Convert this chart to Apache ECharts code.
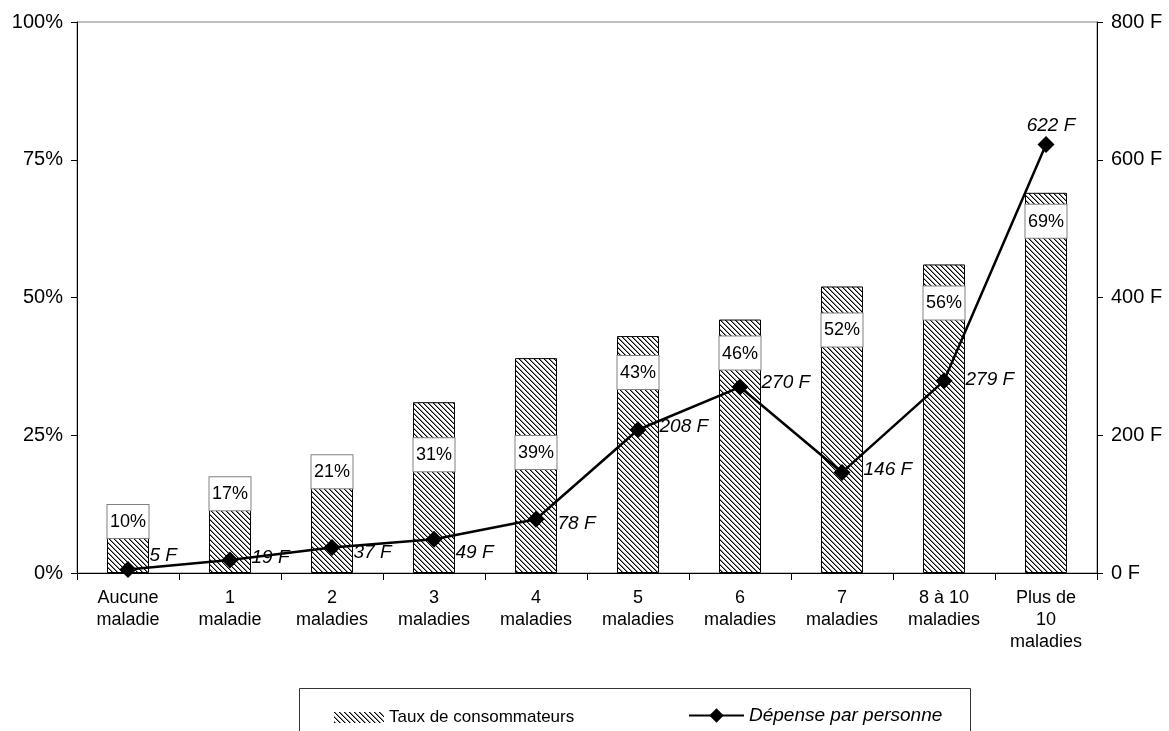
<!DOCTYPE html>
<html>
<head>
<meta charset="utf-8">
<script src="https://cdn.jsdelivr.net/npm/echarts@6/dist/echarts.min.js"></script>
<style>
html,body{margin:0;padding:0;background:#fff;}
#chart{width:1169px;height:731px;}
</style>
</head>
<body>
<div id="chart"></div>
<script>
var categories = ['Aucune\nmaladie','1\nmaladie','2\nmaladies','3\nmaladies','4\nmaladies','5\nmaladies','6\nmaladies','7\nmaladies','8 à 10\nmaladies','Plus de\n10\nmaladies'];
var tauxConsommateurs = [10,17,21,31,39,43,46,52,56,69];
var depenseParPersonne = [5,19,37,49,78,208,270,146,279,622];
var leftTicks = [0,25,50,75,100];
var rightTicks = [0,200,400,600,800];
// label layout only: vertical shift of each percentage box from its bar top,
// and vertical shift of each expense label from its point
var barLabelShift = [-13,-2,-2,36,78,20,17,27,22,12];
var lineLabelShift = [-14,-2,5,13,4,-3,-4,-3,-1,0];

function makeHatch(){
  var n = 5;
  var c = document.createElement('canvas');
  c.width = n; c.height = n;
  var g = c.getContext('2d');
  g.fillStyle = '#fff'; g.fillRect(0,0,n,n);
  for (var i=0;i<n;i++){
    g.fillStyle = '#000'; g.fillRect(i, i, 1, 1);
    g.fillStyle = '#8a8a8a'; g.fillRect((i+1) % n, i, 1, 1);
  }
  return c;
}
var hatch = {image: makeHatch(), repeat: 'repeat'};

var font = 'Liberation Sans, Arial, sans-serif';
var chart = echarts.init(document.getElementById('chart'));

var barData = tauxConsommateurs.map(function(v,i){
  return {value: v, label: {offset: [0, barLabelShift[i]]}};
});
var lastIdx = depenseParPersonne.length - 1;
var lineData = depenseParPersonne.map(function(v,i){
  if (i === lastIdx) return {value: v, label: {position: 'top', distance: 1, offset: [5, 0]}};
  return {value: v, label: {offset: [0, lineLabelShift[i]]}};
});

chart.setOption({
  backgroundColor: '#fff',
  animation: false,
  textStyle: {fontFamily: font},
  grid: {left: 77, right: 72, top: 22, bottom: 158, show: true, borderColor: '#808080', borderWidth: 1},
  legend: [
    {left: 329, top: 704, itemWidth: 50, itemHeight: 11, icon: 'rect', data: ['Taux de consommateurs'],
     itemStyle: {borderWidth: 0},
     textStyle: {fontFamily: font, fontSize: 17, color: '#000'}},
    {left: 683, top: 701, itemWidth: 55, itemHeight: 18, data: ['Dépense par personne'],
     textStyle: {fontFamily: font, fontSize: 19, fontStyle: 'italic', color: '#000'}}
  ],
  graphic: [{type: 'rect', left: 297, top: 686, shape: {width: 671, height: 70},
    style: {fill: 'none', stroke: '#333', lineWidth: 1}, silent: true}],
  xAxis: {
    type: 'category', data: categories,
    axisLine: {lineStyle: {color: '#000', width: 1}},
    axisTick: {show: true, alignWithLabel: false, length: 7, lineStyle: {color: '#000'}},
    axisLabel: {color: '#000', fontSize: 18, lineHeight: 22, margin: 14, interval: 0, fontFamily: font}
  },
  yAxis: [
    {type: 'value', min: leftTicks[0], max: leftTicks[leftTicks.length-1], interval: 25,
     axisLine: {show: true, lineStyle: {color: '#000'}},
     axisTick: {show: true, length: 6, lineStyle: {color: '#000'}},
     splitLine: {show: false},
     axisLabel: {color: '#000', fontSize: 20, margin: 14, formatter: '{value}%', fontFamily: font}},
    {type: 'value', min: rightTicks[0], max: rightTicks[rightTicks.length-1], interval: 200,
     axisLine: {show: true, lineStyle: {color: '#000'}},
     axisTick: {show: true, length: 6, lineStyle: {color: '#000'}},
     splitLine: {show: false},
     axisLabel: {color: '#000', fontSize: 20, margin: 14, formatter: '{value} F', fontFamily: font}}
  ],
  series: [
    {name: 'Taux de consommateurs', type: 'bar', yAxisIndex: 0, barWidth: 42, data: barData,
     itemStyle: {color: hatch, borderColor: '#000', borderWidth: 1},
     label: {show: true, position: 'insideTop', distance: 0, formatter: '{c}%', color: '#000',
       fontSize: 18, fontFamily: font, backgroundColor: '#fff', borderColor: '#808080', borderWidth: 1,
       padding: [8,0,7,0], width: 41, align: 'center'}},
    {name: 'Dépense par personne', type: 'line', yAxisIndex: 1, data: lineData,
     symbol: 'diamond', symbolSize: 17, lineStyle: {color: '#000', width: 2.5},
     itemStyle: {color: '#000'},
     label: {show: true, position: 'right', distance: 13, formatter: '{c} F', color: '#000',
       fontSize: 19, fontStyle: 'italic', fontFamily: font}}
  ]
});
</script>
</body>
</html>
